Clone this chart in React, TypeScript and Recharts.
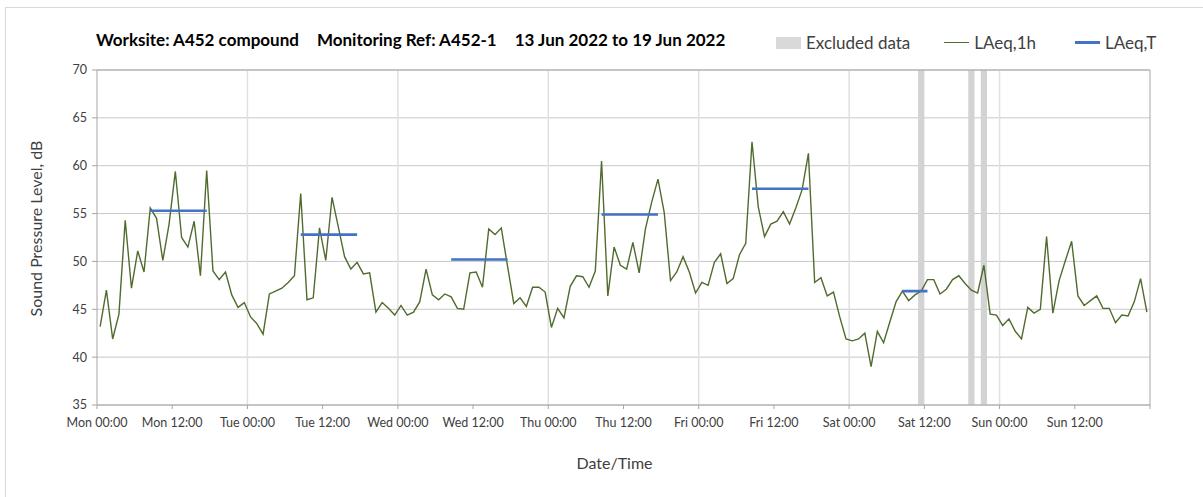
import React from 'react';
import { LineChart, Line, XAxis, YAxis, CartesianGrid, ReferenceArea, ReferenceLine } from 'recharts';

// Hourly LAeq,1h values, Mon 00:00 (hour 0) to Sun 23:00 (hour 167)
const HOURLY_LAEQ = [
  43.2, 47.0, 41.9, 44.5, 54.3, 47.2, 51.1, 48.9, 55.6, 54.5, 50.1, 53.9,
  59.4, 52.5, 51.5, 54.2, 48.5, 59.5, 49.0, 48.1, 48.9, 46.5, 45.2, 45.7,
  44.2, 43.5, 42.4, 46.6, 46.9, 47.2, 47.8, 48.5, 57.1, 46.0, 46.2, 53.5,
  50.1, 56.7, 53.6, 50.5, 49.2, 49.9, 48.7, 48.8, 44.7, 45.7, 45.1, 44.4,
  45.4, 44.4, 44.7, 45.8, 49.2, 46.5, 46.0, 46.6, 46.3, 45.1, 45.0, 48.8,
  48.9, 47.3, 53.4, 52.8, 53.5, 49.5, 45.6, 46.2, 45.3, 47.3, 47.3, 46.8,
  43.1, 45.1, 44.1, 47.4, 48.5, 48.4, 47.3, 49.0, 60.5, 46.4, 51.5, 49.6,
  49.2, 52.0, 48.8, 53.4, 56.2, 58.6, 55.1, 48.0, 48.9, 50.5, 48.9, 46.7,
  47.8, 47.5, 49.9, 50.8, 47.7, 48.2, 50.7, 51.9, 62.5, 55.7, 52.6, 53.9,
  54.2, 55.2, 53.9, 55.6, 57.5, 61.3, 47.8, 48.3, 46.4, 46.8, 44.2, 41.9,
  41.7, 41.9, 42.5, 39.0, 42.7, 41.5, 43.7, 45.8, 46.9, 45.9, 46.5, 46.9,
  48.1, 48.1, 46.6, 47.1, 48.1, 48.5, 47.7, 47.0, 46.7, 49.6, 44.5, 44.4,
  43.3, 44.0, 42.7, 41.9, 45.2, 44.6, 45.0, 52.6, 44.6, 48.0, 50.1, 52.1,
  46.4, 45.4, 45.9, 46.4, 45.1, 45.1, 43.6, 44.4, 44.3, 45.8, 48.2, 44.7,
];

// LAeq,T periods (first and last hour index) and values
const PERIOD_STARTS = [8, 32, 56, 80, 104, 128];
const PERIOD_ENDS = [17, 41, 65, 89, 113, 132];
const PERIOD_LAEQ_T = [55.3, 52.8, 50.2, 54.9, 57.6, 46.9];

// Excluded hours
const EXCLUDED_HOURS = [131, 139, 141];

const X_TICKS = [0, 12, 24, 36, 48, 60, 72, 84, 96, 108, 120, 132, 144, 156, 168];
const X_TICK_LABELS = [
  'Mon 00:00', 'Mon 12:00', 'Tue 00:00', 'Tue 12:00', 'Wed 00:00', 'Wed 12:00',
  'Thu 00:00', 'Thu 12:00', 'Fri 00:00', 'Fri 12:00', 'Sat 00:00', 'Sat 12:00',
  'Sun 00:00', 'Sun 12:00', '',
];
const Y_TICKS = [35, 40, 45, 50, 55, 60, 65, 70];
const DAY_LINES = [24, 48, 72, 96, 120, 144];

const TITLE_PARTS = ['Worksite: A452 compound', 'Monitoring Ref: A452-1', '13 Jun 2022 to 19 Jun 2022'];
const LEGEND_ITEMS = [
  { label: 'Excluded data', kind: 'box', color: '#d9d9d9' },
  { label: 'LAeq,1h', kind: 'thin', color: '#4f6b2e' },
  { label: 'LAeq,T', kind: 'thick', color: '#4472c4' },
];

const FONT = 'Lato, "Open Sans", sans-serif';

const periodValue = (h: number): number | null => {
  for (let k = 0; k < PERIOD_STARTS.length; k++) {
    if (h >= PERIOD_STARTS[k] && h <= PERIOD_ENDS[k]) return PERIOD_LAEQ_T[k];
  }
  return null;
};

const data = HOURLY_LAEQ.map((v, i) => ({ t: i + 0.5, laeq1h: v, laeqT: periodValue(i) }));

const LegendBlock = () => (
  <div
    style={{
      position: 'absolute', left: 776, top: 32, display: 'flex', alignItems: 'center',
      fontFamily: FONT, fontSize: 17, color: '#404040', whiteSpace: 'nowrap',
    }}
  >
    {LEGEND_ITEMS.map((it) => (
      <div key={it.label} style={{ display: 'flex', alignItems: 'center', marginRight: it.kind === 'box' ? 34 : it.kind === 'thin' ? 39 : 0 }}>
        <span
          style={{
            display: 'inline-block',
            width: 25,
            height: it.kind === 'box' ? 12 : it.kind === 'thin' ? 1.5 : 3,
            background: it.color,
            marginRight: 5,
          }}
        />
        <span>{it.label}</span>
      </div>
    ))}
  </div>
);

export default function App() {
  return (
    <div style={{ position: 'absolute', left: 0, top: 0, width: 1203, height: 497, background: '#fff', overflow: 'hidden' }}>
      <div style={{ position: 'absolute', left: 5, top: 7, width: 1250, height: 520, borderLeft: '1px solid #d9d9d9', borderTop: '1px solid #d9d9d9' }} />
      <div
        style={{
          position: 'absolute', left: 96, top: 29, fontFamily: FONT, fontWeight: 700, fontSize: 17,
          color: '#000', whiteSpace: 'nowrap', display: 'flex',
        }}
      >
        {TITLE_PARTS.map((p, i) => (
          <span key={p} style={{ marginLeft: i === 0 ? 0 : 18 }}>{p}</span>
        ))}
      </div>
      <LineChart
        width={1203}
        height={497}
        data={data}
        margin={{ top: 70, right: 53, bottom: 22, left: 20 }}
        style={{ position: 'absolute', left: 0, top: 0 }}
      >
        <CartesianGrid vertical={false} stroke="#c8c8c8" strokeWidth={1} />
        {DAY_LINES.map((d) => (
          <ReferenceLine key={d} x={d} stroke="#e0e0e0" strokeWidth={1.5} />
        ))}
        <ReferenceLine x={168} stroke="#a6a6a6" strokeWidth={1} />
        <ReferenceLine y={70} stroke="#a6a6a6" strokeWidth={1} />
        {EXCLUDED_HOURS.map((h) => (
          <ReferenceArea key={h} x1={h} x2={h + 1} y1={35} y2={70} fill="#d3d3d3" fillOpacity={1} stroke="none" />
        ))}
        <XAxis
          dataKey="t"
          type="number"
          domain={[0, 168]}
          ticks={X_TICKS}
          interval={0}
          tickFormatter={(v: number) => X_TICK_LABELS[X_TICKS.indexOf(v)] ?? ''}
          tick={{ fontFamily: FONT, fontSize: 12.5, fill: '#404040' }}
          tickLine={{ stroke: '#a6a6a6' }}
          axisLine={{ stroke: '#a6a6a6' }}
          tickSize={4}
          tickMargin={9}
          height={70}
          label={{ value: 'Date/Time', position: 'insideBottom', offset: 6, dx: -9, style: { fontFamily: FONT, fontSize: 16, fill: '#404040' } }}
        />
        <YAxis
          type="number"
          domain={[35, 70]}
          ticks={Y_TICKS}
          interval={0}
          allowDataOverflow
          tick={{ fontFamily: FONT, fontSize: 12.5, fill: '#404040' }}
          tickLine={{ stroke: '#a6a6a6' }}
          axisLine={{ stroke: '#a6a6a6' }}
          tickSize={5}
          tickMargin={5}
          width={77}
          label={{ value: 'Sound Pressure Level, dB', angle: -90, position: 'insideLeft', offset: 16, dy: -9, style: { textAnchor: 'middle', fontFamily: FONT, fontSize: 16, fill: '#404040' } }}
        />
        <Line
          type="linear"
          dataKey="laeq1h"
          stroke="#4f6b2e"
          strokeWidth={1.4}
          dot={false}
          activeDot={false}
          isAnimationActive={false}
        />
        <Line
          type="linear"
          dataKey="laeqT"
          stroke="#4472c4"
          strokeWidth={2.6}
          dot={false}
          activeDot={false}
          connectNulls={false}
          isAnimationActive={false}
        />
      </LineChart>
      <LegendBlock />
    </div>
  );
}
